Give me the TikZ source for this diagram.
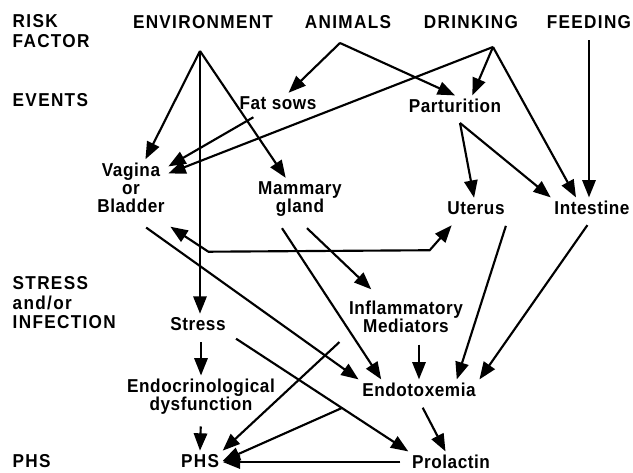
\documentclass[tikz,border=0pt]{standalone}
\usepackage{fontspec}
\usepackage{tikz}
\usetikzlibrary{arrows.meta}
\newfontfamily\lblfont{Liberation Sans}[FakeStretch=0.92,LetterSpace=3]
\newfontfamily\capfont{Liberation Sans}[FakeStretch=0.92,LetterSpace=7]
\tikzstyle{lbl}=[inner sep=2pt,align=center,font=\lblfont\bfseries\fontsize{14}{13.6}\selectfont]
\tikzstyle{head}=[lbl,font=\capfont\bfseries\fontsize{14}{14.6}\selectfont]
\tikzstyle{side}=[head,anchor=west,align=left]
\tikzstyle{arr}=[->,shorten <=6pt]
\begin{document}
\begin{tikzpicture}[x=0.75pt,y=-0.75pt,line width=1.6pt,>={Triangle[length=13pt,width=10pt]}]
\useasboundingbox (0,0) rectangle (633,473);
\foreach \p/\n/\t in {{9,31}/risk/{RISK\\FACTOR}, {9,100}/events/EVENTS, {9,303}/stin/{STRESS\\and/or\\INFECTION}, {9,461}/phsl/PHS}
  \node[side] (\n) at (\p) {\t};
\foreach \p/\n/\t in {{203,22}/env/ENVIRONMENT, {348,22}/ani/ANIMALS, {471,22}/dri/DRINKING, {589,22}/fee/FEEDING, {200,461}/phs/PHS}
  \node[head] (\n) at (\p) {\t};
\foreach \p/\n/\t in {{278,103}/fat/Fat sows, {455,106}/par/Parturition, {131,188}/vag/{Vagina\\or\\Bladder}, {300,199}/mam/{Mammary\\gland}, {476,208}/ute/Uterus, {592,208}/int/Intestine, {198,324}/str/Stress, {406,317}/inf/{Inflammatory\\Mediators}, {201,397}/endo/{Endocrinological\\dysfunction}, {419,390}/tox/Endotoxemia, {451,462}/pro/Prolactin}
  \node[lbl] (\n) at (\p) {\t};
\foreach \p/\n in {{200,51}/envj, {340,43}/anij, {493,47}/drij, {460,123}/parj}
  \coordinate (\n) at (\p);
\foreach \a/\b in {envj/vag, envj/mam, anij/fat, anij/par.north, drij/vag, parj/ute, parj/int.north west}
  \draw[->] (\a) -- (\b);
\draw[->] (envj) -- (envj |- str.north);
\draw[->] (drij) -- ([xshift=13pt]par.north);
\draw[->] (drij) -- ([xshift=-12pt]int.north);
\foreach \a/\b in {fat/vag, int.south/tox.north east, str.south east/pro.north west, inf.south west/phs.north east, endo.south/phs.north, tox.south/pro}
  \draw[arr] (\a) -- (\b);
\draw[arr] (fee.south) -- (fee.south |- int.north);
\draw[arr] (inf.south -| tox.north) -- (tox.north);
\draw[arr] (endo.north |- str.south) -- (endo.north);
\draw[arr] (pro.west) -- (pro.west -| phs.east);
\draw[arr,shorten <=14pt] (vag.south) -- (tox.north west);
\draw[arr,shorten <=14pt] (tox.south west) -- (phs.east);
\draw[arr] (ute.south east) -- ([xshift=-17pt]tox.north east);
\draw[->] ([shift={(-18,8)}]mam.south) -- ([xshift=17pt]tox.north west);
\draw[->] ([shift={(7,8)}]mam.south) -- ([shift={(26,-8)}]inf.north west);
\draw[<->] ([shift={(2,10)}]vag.south east) -- ++(38,25) -- ([shift={(-14,32)}]ute.south west) -- ([shift={(8,7)}]ute.south west);
\end{tikzpicture}
\end{document}
